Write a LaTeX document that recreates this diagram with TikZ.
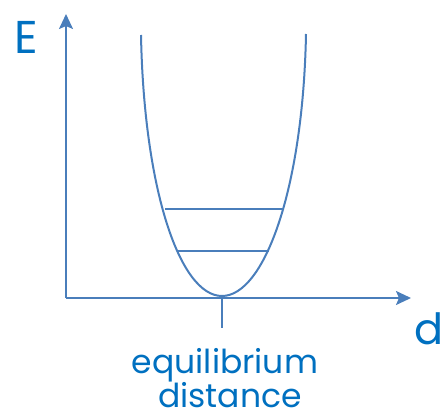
\documentclass[tikz,border=0pt]{standalone}
\usepackage{fontspec}
\setmainfont{Poppins}
\usetikzlibrary{arrows.meta}
\definecolor{lineblue}{HTML}{4A7EBB}
\definecolor{textblue}{HTML}{0070C0}

\begin{document}
\begin{tikzpicture}[x=1pt,y=-1pt,axis/.style={lineblue,line width=2pt,-{Stealth[length=15pt,width=14pt,inset=3pt]}},curve/.style={lineblue,line width=2pt},lbl/.style={textblue,inner sep=0pt}]
\useasboundingbox (0,0) rectangle (445,420);
\coordinate (o) at (66,298);
\coordinate (etop) at (66,14);
\coordinate (dend) at (411,298);
\coordinate (eq) at (222,298);
\coordinate (tk) at (222,328);
\coordinate (lt) at (141,35);
\coordinate (rt) at (306,34);
\coordinate (vx) at (222,296);
\node[lbl,font=\fontsize{46}{46}\selectfont,anchor=base] (E) at (26,54) {E};
\node[lbl,font=\fontsize{43}{43}\selectfont,anchor=base] (d) at (429,344) {d};
\node[lbl,font=\fontsize{33}{33}\selectfont,anchor=base] (eqlbl) at (225,373) {equilibrium};
\node[lbl,font=\fontsize{33}{33}\selectfont,anchor=base] (dist) at (230,407) {distance};
\draw[axis] (o) -- (etop);
\draw[axis] (o) -- (dend);
\draw[curve] (eq) -- (tk);
\draw[curve] (lt) .. controls (144,190) and (180,296) .. (vx) .. controls (264,296) and (303,190) .. (rt);
\draw[curve] (165,209) -- (284,209);
\draw[curve] (178,251) -- (269,251);
\end{tikzpicture}
\end{document}
